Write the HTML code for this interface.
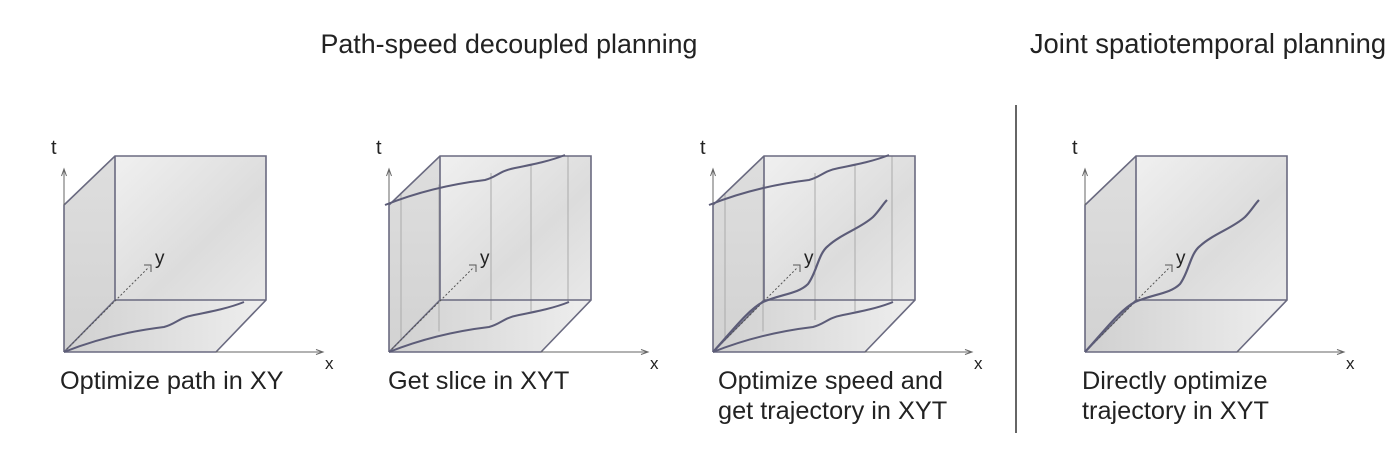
<!DOCTYPE html>
<html><head><meta charset="utf-8">
<style>
html,body{margin:0;padding:0;background:#fff;width:1400px;height:452px;overflow:hidden}
svg{display:block}
text{font-family:"Liberation Sans",sans-serif;fill:#222}
</style></head>
<body>
<svg id="fig" width="1400" height="452" viewBox="0 0 1400 452">
<defs>
<linearGradient id="gBack" x1="0" y1="0" x2="1" y2="1">
<stop offset="0" stop-color="#f0f0f0"/><stop offset="0.6" stop-color="#dcdcdc"/><stop offset="1" stop-color="#e8e8e8"/>
</linearGradient>
<linearGradient id="gLeft" x1="0" y1="0" x2="0" y2="1">
<stop offset="0" stop-color="#dedede"/><stop offset="1" stop-color="#d2d2d2"/>
</linearGradient>
<linearGradient id="gBot" x1="0" y1="0" x2="1" y2="0">
<stop offset="0" stop-color="#d0d0d0"/><stop offset="1" stop-color="#eeeeee"/>
</linearGradient>
</defs>
<text x="509" y="53" font-size="26.8" text-anchor="middle">Path-speed decoupled planning</text>
<text x="1208" y="53" font-size="27.4" text-anchor="middle">Joint spatiotemporal planning</text>
<line x1="1016" y1="105" x2="1016" y2="433" stroke="#333" stroke-width="1.5"/>
<g id="cubes"></g>
<text x="60" y="389" font-size="25.3">Optimize path in XY</text>
<text x="388" y="389" font-size="25.3">Get slice in XYT</text>
<text x="718" y="389" font-size="25.3">Optimize speed and</text>
<text x="718" y="419" font-size="25.3">get trajectory in XYT</text>
<text x="1082" y="389" font-size="25.3">Directly optimize</text>
<text x="1082" y="419" font-size="25.3">trajectory in XYT</text>
</svg>
<script>
const cubeOrigins = [64, 389, 713, 1085];
const showPath = [true, true, true, false];
const showSlice = [false, true, true, false];
const showTraj = [false, false, true, true];
const NS = "http://www.w3.org/2000/svg";
const root = document.getElementById('cubes');
function mk(tag, attrs, parent){
  const e = document.createElementNS(NS, tag);
  for (const k in attrs) e.setAttribute(k, attrs[k]);
  parent.appendChild(e);
  return e;
}
const pathD = "M0,0 C40,-16 75,-22 100,-25 C112,-28 114,-34 130,-37 C150,-41 165,-44 180,-50";
const trajD = "M0,0 C20,-22 35,-42 50,-50 C68,-58 85,-58 95,-68 C104,-80 105,-98 115,-106 C128,-118 148,-124 160,-135 C166,-141 170,-148 174,-152";
const cols = [10, 48, 100, 140, 177];
cubeOrigins.forEach((ox, i) => {
  const g = mk('g', {transform: 'translate(' + ox + ',352)'}, root);
  
  
  const back = mk('rect', {x:51, y:-196, width:151, height:144, fill:'url(#gBack)'}, g);
  
  
  const left = mk('polygon', {points:'0,0 0,-147 51,-196 51,-52', fill:'url(#gLeft)'}, g);
  
  
  const bot = mk('polygon', {points:'0,0 51,-52 202,-52 152,0', fill:'url(#gBot)'}, g);
  
  
  if (showSlice[i]) {
    cols.forEach(c => {
      const l = mk('line', {x1:c+2, y1:-10 - c*0.22, x2:c+2, y2:-157 - c*0.22, stroke:'#aaa', 'stroke-width':1}, g);
      
      
    });
  }
  const edges = mk('path', {d:'M0,0 L0,-147 L51,-196 L202,-196 L202,-52 L152,0 L0,0 M51,-196 L51,-52 L202,-52 M0,0 L51,-52', fill:'none', stroke:'#6a6a80', 'stroke-width':1.6}, g);
  
  
  const tAx = mk('path', {d:'M0,-147 L0,-182 M-2.5,-176 L0,-183 L2.5,-176', fill:'none', stroke:'#666', 'stroke-width':1}, g);
  
  
  const xAx = mk('path', {d:'M152,0 L258,0 M252,-2.5 L259,0 L252,2.5', fill:'none', stroke:'#666', 'stroke-width':1}, g);
  
  
  const yAx = mk('path', {d:'M0,0 L85,-85', fill:'none', stroke:'#555', 'stroke-width':1, 'stroke-dasharray':'2,2'}, g);
  
  
  const yHead = mk('path', {d:'M80,-87 L87,-87 L87,-80', fill:'none', stroke:'#555', 'stroke-width':1}, g);
  
  
  const tl = mk('text', {x:-13, y:-198, 'font-size':20}, g); tl.textContent = 't';
  
  
  const xl = mk('text', {x:261, y:17, 'font-size':17}, g); xl.textContent = 'x';
  
  
  const yl = mk('text', {x:91, y:-88, 'font-size':19}, g); yl.textContent = 'y';
  
  
  if (showPath[i]) {
    const p = mk('path', {d:pathD, fill:'none', stroke:'#5c5c78', 'stroke-width':2}, g);
    
    
  }
  if (showSlice[i]) {
    const p = mk('path', {d:pathD, transform:'translate(-4,-147)', fill:'none', stroke:'#5c5c78', 'stroke-width':2}, g);
    
    
  }
  if (showTraj[i]) {
    const p = mk('path', {d:trajD, fill:'none', stroke:'#5c5c78', 'stroke-width':2.2}, g);
    
    
  }
});
</script>
</body></html>
